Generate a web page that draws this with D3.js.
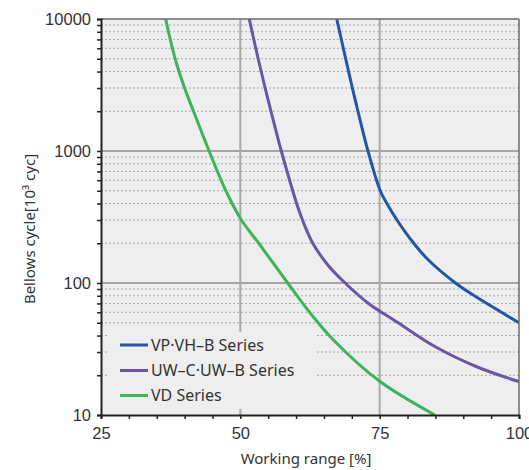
<!DOCTYPE html>
<html>
<head>
<meta charset="utf-8">
<script src="https://cdn.jsdelivr.net/npm/d3@7"></script>
<style>
  body { margin: 0; background: #fff; }
  svg { display: block; }
</style>
</head>
<body>
<svg id="chart" width="529" height="470"></svg>
<script>
// Axis setup
const xDomain = [25, 100];
const xLabelTicks = [25, 50, 75, 100];
const xTickStep = 5;
const yDomain = [10, 10000];
const yLabelTicks = [10, 100, 1000, 10000];
const yMajorGrid = [100, 1000];
const xGridValues = [50, 75];

// Series: working range [%] vs. bellows cycle [10^3 cyc]
const seriesNames = ["VP\u00B7VH\u2013B Series", "UW\u2013C\u00B7UW\u2013B Series", "VD Series"];
const seriesColors = ["#2356a8", "#6a55a7", "#3cb45a"];

const vpRange  = [67.3, 68.9, 70.1, 71.1, 72.9, 75.1, 76.3, 78.1, 81.1, 83.7, 88.6, 92.0, 100];
const vpCycles = [10000, 5000, 3000, 2000, 1000, 500, 400, 300, 200, 150, 100, 80, 50];

const uwRange  = [51.6, 53.2, 54.45, 55.5, 57.35, 59.4, 60.1, 61.15, 63.0, 65.7, 68.8, 73.0, 78.3, 84.9, 92.4, 100];
const uwCycles = [10000, 5000, 3000, 2000, 1000, 500, 400, 300, 200, 137, 100, 70, 50, 33, 23.2, 17.9];

const vdRange  = [36.6, 38.3, 40.0, 41.6, 44.4, 47.4, 50.2, 53.3, 58.5, 62.7, 66.7, 75.0, 84.9];
const vdCycles = [10000, 5000, 3000, 2000, 1000, 500, 300, 200, 100, 58, 37, 18, 10];

const seriesRanges = [vpRange, uwRange, vdRange];
const seriesCycles = [vpCycles, uwCycles, vdCycles];

const W = 529, H = 470;
const margin = { top: 19, right: 10, bottom: 55, left: 101 };
const plotW = W - margin.left - margin.right;
const plotH = H - margin.top - margin.bottom;

const svg = d3.select("#chart");
const x = d3.scaleLinear().domain(xDomain).range([margin.left, margin.left + plotW]);
const y = d3.scaleLog().domain(yDomain).range([margin.top + plotH, margin.top]);

// minor decades 2..9
const yMinor = [];
for (let d = 10; d < 10000; d *= 10) for (let k = 2; k <= 9; k++) yMinor.push(k * d);
const yAllTicks = yLabelTicks.concat(yMinor).sort((a, b) => a - b);

// plot background
svg.append("rect")
  .attr("x", margin.left).attr("y", margin.top)
  .attr("width", plotW).attr("height", plotH)
  .attr("fill", "#eeeeee");

const grid = svg.append("g");
grid.selectAll("line.minor").data(yMinor).join("line")
  .attr("class", "minor")
  .attr("x1", margin.left).attr("x2", margin.left + plotW)
  .attr("y1", d => y(d)).attr("y2", d => y(d))
  .attr("stroke", "#a8a8a8").attr("stroke-width", 1)
  .attr("stroke-dasharray", "2,2");
grid.selectAll("line.major").data(yMajorGrid).join("line")
  .attr("class", "major")
  .attr("x1", margin.left).attr("x2", margin.left + plotW)
  .attr("y1", d => y(d)).attr("y2", d => y(d))
  .attr("stroke", "#8c8c8c").attr("stroke-width", 1.5);
grid.selectAll("line.vgrid").data(xGridValues).join("line")
  .attr("class", "vgrid")
  .attr("x1", d => x(d)).attr("x2", d => x(d))
  .attr("y1", margin.top).attr("y2", margin.top + plotH)
  .attr("stroke", "#a9a9a9").attr("stroke-width", 2);

// legend panel covers the grid behind it
const legendBox = { x0: 108, y0: 332, x1: 315, y1: 409 };
svg.append("rect")
  .attr("x", legendBox.x0).attr("y", legendBox.y0)
  .attr("width", legendBox.x1 - legendBox.x0).attr("height", legendBox.y1 - legendBox.y0)
  .attr("fill", "#eeeeee");

// curves
svg.append("clipPath").attr("id", "plotClip").append("rect")
  .attr("x", margin.left).attr("y", margin.top)
  .attr("width", plotW).attr("height", plotH);

const line = d3.line()
  .x(d => x(d[0])).y(d => y(d[1]))
  .curve(d3.curveCatmullRom.alpha(0.5));

const curves = svg.append("g").attr("clip-path", "url(#plotClip)");
seriesNames.forEach((name, i) => {
  const pts = seriesRanges[i].map((r, j) => [r, seriesCycles[i][j]]);
  curves.append("path")
    .datum(pts)
    .attr("d", line)
    .attr("fill", "none")
    .attr("stroke", seriesColors[i])
    .attr("stroke-width", 3)
    .attr("stroke-linejoin", "round");
});

// frame (top and right)
svg.append("line")
  .attr("x1", margin.left).attr("x2", margin.left + plotW)
  .attr("y1", margin.top).attr("y2", margin.top)
  .attr("stroke", "#6a6a6a").attr("stroke-width", 1.5);
svg.append("line")
  .attr("x1", margin.left + plotW).attr("x2", margin.left + plotW)
  .attr("y1", margin.top).attr("y2", margin.top + plotH)
  .attr("stroke", "#6a6a6a").attr("stroke-width", 1.5);

// axes
const tickFont = "'Liberation Sans', Arial, sans-serif";
const xAxis = d3.axisBottom(x)
  .tickValues(d3.range(xDomain[0], xDomain[1] + 0.01, xTickStep))
  .tickSize(4).tickPadding(8)
  .tickFormat(d => xLabelTicks.includes(d) ? String(d) : "");
const gx = svg.append("g")
  .attr("transform", `translate(0,${margin.top + plotH})`)
  .call(xAxis);

const yAxis = d3.axisLeft(y)
  .tickValues(yAllTicks)
  .tickSize(4).tickPadding(6)
  .tickFormat(d => yLabelTicks.includes(d) ? String(d) : "");
const gy = svg.append("g")
  .attr("transform", `translate(${margin.left},0)`)
  .call(yAxis);

[gx, gy].forEach(g => {
  g.select(".domain").attr("stroke", "#222").attr("stroke-width", 2);
  g.selectAll(".tick line").attr("stroke", "#222").attr("stroke-width", 1.5);
  g.selectAll(".tick text")
    .attr("fill", "#333")
    .style("font-family", tickFont)
    .style("font-size", "16.5px");
});

// axis titles
const titleFont = "'Noto Sans', 'Open Sans', sans-serif";
svg.append("text")
  .attr("x", 306).attr("y", 464)
  .attr("text-anchor", "middle")
  .attr("fill", "#333")
  .style("font-family", titleFont).style("font-size", "15px")
  .text("Working range [%]");

svg.append("text")
  .attr("transform", "translate(35,229) rotate(-90)")
  .attr("text-anchor", "middle")
  .attr("fill", "#333")
  .style("font-family", titleFont).style("font-size", "15px")
  .text("Bellows cycle[10\u00B3 cyc]");

// legend
const legend = svg.append("g");
const legendRows = [345, 370.5, 395.5];
seriesNames.forEach((name, i) => {
  legend.append("line")
    .attr("x1", 120).attr("x2", 148)
    .attr("y1", legendRows[i]).attr("y2", legendRows[i])
    .attr("stroke", seriesColors[i]).attr("stroke-width", 3);
  legend.append("text")
    .attr("x", 151).attr("y", legendRows[i] + 5.5)
    .attr("fill", "#333")
    .style("font-family", titleFont).style("font-size", "16px")
    .text(name);
});
</script>
</body>
</html>
